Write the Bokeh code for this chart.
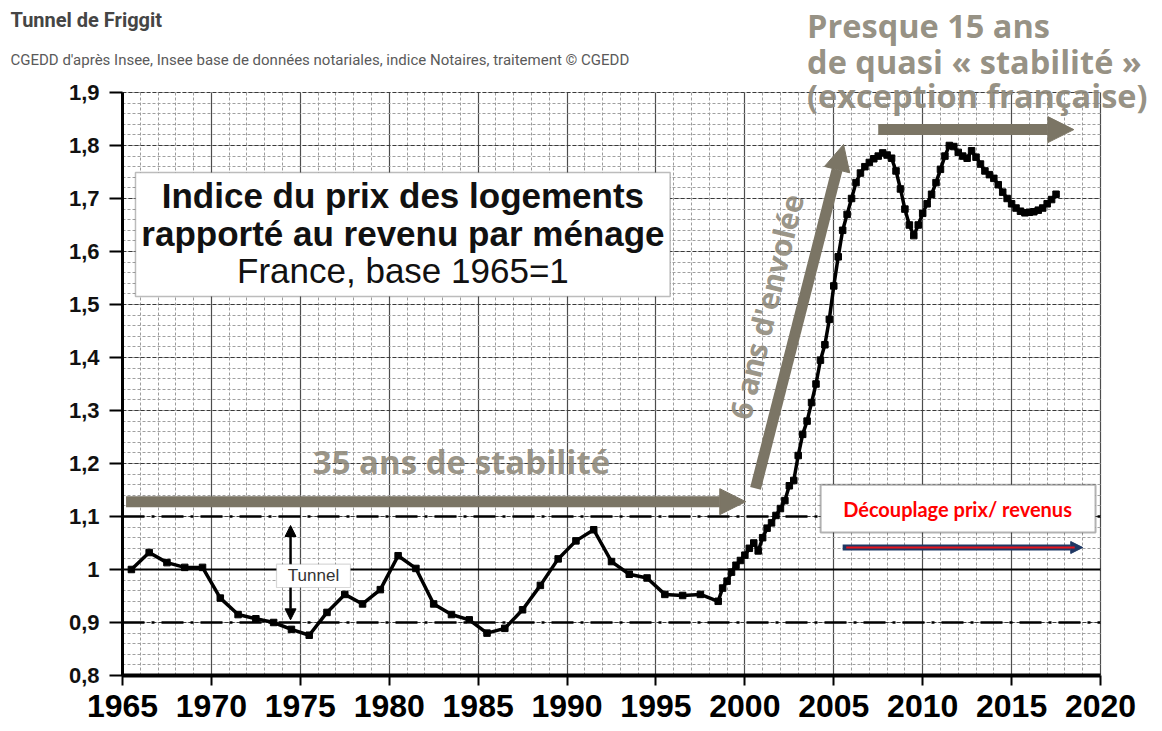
from bokeh.plotting import figure
from bokeh.models import Range1d, FixedTicker, Arrow, NormalHead, Label, BoxAnnotation, ColumnDataSource
from bokeh.embed import file_html
from bokeh.resources import INLINE

# ---------------- data ----------------
annual_years = [1965, 1966, 1967, 1968, 1969, 1970, 1971, 1972, 1973, 1974,
                1975, 1976, 1977, 1978, 1979, 1980, 1981, 1982, 1983, 1984,
                1985, 1986, 1987, 1988, 1989, 1990, 1991, 1992, 1993, 1994,
                1995, 1996, 1997, 1998]
annual_values = [1.000, 1.032, 1.013, 1.004, 1.004, 0.946, 0.915, 0.907, 0.900, 0.887,
                 0.876, 0.919, 0.953, 0.935, 0.962, 1.026, 1.002, 0.935, 0.915, 0.905,
                 0.880, 0.889, 0.924, 0.970, 1.020, 1.054, 1.075, 1.015, 0.991, 0.984,
                 0.953, 0.951, 0.953, 0.940]

quarter_dates = [1998.75, 1999.0, 1999.25, 1999.5, 1999.75, 2000.0, 2000.25, 2000.5, 2000.75,
                 2001.0, 2001.25, 2001.5, 2001.75, 2002.0, 2002.25, 2002.5, 2002.75,
                 2003.0, 2003.25, 2003.5, 2003.75, 2004.0, 2004.25, 2004.5, 2004.75,
                 2005.0, 2005.25, 2005.5, 2005.75, 2006.0, 2006.25, 2006.5, 2006.75,
                 2007.0, 2007.25, 2007.5, 2007.75, 2008.0, 2008.25, 2008.5, 2008.75,
                 2009.0, 2009.25, 2009.5, 2009.75, 2010.0, 2010.25, 2010.5, 2010.75,
                 2011.0, 2011.25, 2011.5, 2011.75, 2012.0, 2012.25, 2012.5, 2012.75,
                 2013.0, 2013.25, 2013.5, 2013.75, 2014.0, 2014.25, 2014.5, 2014.75,
                 2015.0, 2015.25, 2015.5, 2015.75, 2016.0, 2016.25, 2016.5, 2016.75,
                 2017.0, 2017.25, 2017.5]
quarter_values = [0.965, 0.978, 0.995, 1.008, 1.017, 1.027, 1.040, 1.050, 1.035,
                  1.060, 1.078, 1.088, 1.102, 1.115, 1.130, 1.158, 1.168,
                  1.215, 1.255, 1.280, 1.315, 1.350, 1.395, 1.424, 1.472,
                  1.535, 1.590, 1.640, 1.670, 1.700, 1.730, 1.748, 1.760,
                  1.768, 1.775, 1.780, 1.786, 1.782, 1.776, 1.752, 1.718,
                  1.680, 1.650, 1.630, 1.650, 1.672, 1.690, 1.708, 1.730,
                  1.755, 1.780, 1.800, 1.798, 1.787, 1.780, 1.776, 1.790,
                  1.778, 1.765, 1.752, 1.745, 1.738, 1.726, 1.712, 1.700,
                  1.690, 1.682, 1.676, 1.673, 1.674, 1.675, 1.678, 1.682,
                  1.690, 1.698, 1.708]

x_ticks = [1965, 1970, 1975, 1980, 1985, 1990, 1995, 2000, 2005, 2010, 2015, 2020]
y_ticks = [0.8, 0.9, 1.0, 1.1, 1.2, 1.3, 1.4, 1.5, 1.6, 1.7, 1.8, 1.9]
y_tick_labels = ["0,8", "0,9", "1", "1,1", "1,2", "1,3", "1,4", "1,5", "1,6", "1,7", "1,8", "1,9"]
tunnel_levels = [0.9, 1.1]
base_level = 1.0

title_text = "Tunnel de Friggit"
subtitle_text = "CGEDD d'après Insee, Insee base de données notariales, indice Notaires, traitement © CGEDD"
box_lines = ["Indice du prix des logements", "rapporté au revenu par ménage", "France, base 1965=1"]
top_lines = ["Presque 15 ans", "de quasi « stabilité »", "(exception française)"]

# ---------------- figure ----------------
# the frame covers the whole canvas; axes are placed at fixed data locations
p = figure(width=1160, height=731,
           x_range=Range1d(1958.139, 2023.374), y_range=Range1d(0.69434, 2.07358),
           output_backend="svg", toolbar_location=None, min_border=0)
p.outline_line_color = None
p.background_fill_color = "white"
p.border_fill_color = "white"

x0, x1 = x_ticks[0], x_ticks[-1]
y0, y1 = y_ticks[0], y_ticks[-1]

# grids
p.xgrid.ticker = FixedTicker(ticks=x_ticks, minor_ticks=list(range(1965, 2021)))
p.xgrid.bounds = (x0, x1)
p.xgrid.cross_bounds = (y0, y1)
p.xgrid.grid_line_color = "#4d4d4d"
p.xgrid.grid_line_width = 1.2
p.xgrid.minor_grid_line_color = "#9c9c9c"
p.xgrid.minor_grid_line_dash = "3 2"
p.xgrid.minor_grid_line_width = 1

y_minor = [round(0.8 + 0.02 * i, 2) for i in range(56)]
p.ygrid.ticker = FixedTicker(ticks=y_ticks, minor_ticks=y_minor)
p.ygrid.bounds = (y0, y1)
p.ygrid.cross_bounds = (x0, x1)
p.ygrid.grid_line_color = "#3a3a3a"
p.ygrid.grid_line_dash = "4 2"
p.ygrid.grid_line_width = 1.2
p.ygrid.minor_grid_line_color = "#a0a0a0"
p.ygrid.minor_grid_line_dash = "3 2"
p.ygrid.minor_grid_line_width = 1

# axes
p.xaxis.fixed_location = y0
p.xaxis.bounds = (x0, x1)
p.xaxis.ticker = FixedTicker(ticks=x_ticks)
p.xaxis.axis_line_width = 4
p.xaxis.axis_line_color = "black"
p.xaxis.major_tick_line_width = 2
p.xaxis.major_tick_out = 10
p.xaxis.major_tick_in = 0
p.xaxis.minor_tick_line_color = None
p.xaxis.major_label_standoff = 9
p.xaxis.major_label_text_font = "Liberation Sans"
p.xaxis.major_label_text_font_size = "32px"
p.xaxis.major_label_text_font_style = "bold"
p.xaxis.major_label_text_color = "black"

p.yaxis.fixed_location = x0
p.yaxis.bounds = (y0, y1)
p.yaxis.ticker = FixedTicker(ticks=y_ticks)
p.yaxis.axis_line_width = 3
p.yaxis.axis_line_color = "black"
p.yaxis.major_tick_line_width = 2
p.yaxis.major_tick_out = 13
p.yaxis.major_tick_in = 0
p.yaxis.minor_tick_line_color = None
p.yaxis.major_label_standoff = 10
p.yaxis.major_label_text_font = "Liberation Sans"
p.yaxis.major_label_text_font_size = "22px"
p.yaxis.major_label_text_font_style = "bold"
p.yaxis.major_label_text_color = "#111111"
p.yaxis.major_label_overrides = {t: s for t, s in zip(y_ticks, y_tick_labels)}

# reference lines (tunnel)
p.segment(x0=[x0], y0=[base_level], x1=[x1], y1=[base_level], line_color="black", line_width=2.2)
p.segment(x0=[x0] * 2, y0=tunnel_levels, x1=[x1] * 2, y1=tunnel_levels,
          line_color="black", line_width=2.5, line_dash="22 7 3 7")

# series
xs = [y + 0.5 for y in annual_years] + quarter_dates
ys = annual_values + quarter_values
src = ColumnDataSource(dict(x=xs, y=ys))
p.line("x", "y", source=src, line_color="black", line_width=3.5)
p.scatter("x", "y", source=src, marker="square", size=6.5, fill_color="black", line_color="black")

tan = "#7b7565"
tan_text = "#8d8779"

# arrows
p.add_layout(Arrow(x_start=1965.2, y_start=1.128, x_end=2000.05, y_end=1.128,
                   line_color=tan, line_width=11,
                   end=NormalHead(size=26, fill_color=tan, line_color=tan)))
p.add_layout(Arrow(x_start=2000.6, y_start=1.153, x_end=2005.55, y_end=1.802,
                   line_color=tan, line_width=11,
                   end=NormalHead(size=26, fill_color=tan, line_color=tan)))
p.add_layout(Arrow(x_start=2007.5, y_start=1.830, x_end=2018.5, y_end=1.830,
                   line_color=tan, line_width=11,
                   end=NormalHead(size=26, fill_color=tan, line_color=tan)))

# tunnel double arrow + box
p.add_layout(Arrow(x_start=1974.45, y_start=0.905, x_end=1974.45, y_end=1.083,
                   line_color="black", line_width=2.5,
                   start=NormalHead(size=11, fill_color="black", line_color="black"),
                   end=NormalHead(size=11, fill_color="black", line_color="black")))
p.add_layout(BoxAnnotation(left=1973.66, right=1977.82, bottom=0.966, top=1.010,
                           fill_color="white", fill_alpha=1, line_color="#7f7f7f", line_width=1.2))
p.add_layout(Label(x=1975.74, y=0.988, text="Tunnel", text_font="Liberation Sans",
                   text_font_size="17px", text_color="#333333", text_align="center",
                   text_baseline="middle"))

# main box
p.add_layout(BoxAnnotation(left=1965.73, right=1995.8, bottom=1.515, top=1.749,
                           fill_color="white", fill_alpha=1, line_color="#222222", line_width=1.5))
for txt, yy, st in zip(box_lines, [1.7057, 1.6340, 1.5642], ["bold", "bold", "normal"]):
    p.add_layout(Label(x=1980.77, y=yy, text=txt, text_font="Liberation Sans",
                       text_font_size="35px", text_font_style=st, text_color="#111111",
                       text_align="center", text_baseline="middle"))

# découplage box + arrow
p.add_layout(BoxAnnotation(left=2004.26, right=2019.72, bottom=1.070, top=1.160,
                           fill_color="white", fill_alpha=1, line_color="black", line_width=2))
p.add_layout(Label(x=2011.96, y=1.114, text="Découplage prix/ revenus", text_font="Lato",
                   text_font_size="20px", text_font_style="bold", text_color="#ff0000",
                   text_align="center", text_baseline="middle"))
navy = "#1f3864"
p.add_layout(Arrow(x_start=2005.5, y_start=1.0415, x_end=2019.0, y_end=1.0415,
                   line_color=navy, line_width=6,
                   end=NormalHead(size=12, fill_color=navy, line_color=navy)))
p.add_layout(Arrow(x_start=2005.7, y_start=1.0415, x_end=2018.55, y_end=1.0415,
                   line_color="#e8141c", line_width=2, end=None))

# tan texts
p.add_layout(Label(x=1975.7, y=1.2047, text="35 ans de stabilité", text_font="Open Sans",
                   text_font_size="33px", text_font_style="bold", text_color=tan_text,
                   text_alpha=0.9, text_align="left", text_baseline="middle"))
p.add_layout(Label(x=2001.2, y=1.496, text="6 ans d'envolée", text_font="Open Sans",
                   text_font_size="30px", text_font_style="bold", text_color=tan_text,
                   text_alpha=0.9, text_align="center", text_baseline="middle", angle=1.335))
for txt, yy in zip(top_lines, [2.0264, 1.9585, 1.8943]):
    p.add_layout(Label(x=2003.5, y=yy, text=txt, text_font="Open Sans",
                       text_font_size="32.5px", text_font_style="bold", text_color=tan_text,
                       text_alpha=0.92, text_align="left", text_baseline="middle"))

# title and source
p.add_layout(Label(x=1958.7, y=2.0377, text=title_text, text_font="Roboto",
                   text_font_size="20px", text_font_style="bold", text_color="#454545",
                   text_align="left", text_baseline="middle"))
p.add_layout(Label(x=1958.7, y=1.9604, text=subtitle_text, text_font="Roboto",
                   text_font_size="15px", text_color="#5a5a5a",
                   text_align="left", text_baseline="middle"))

open("out.html", "w").write(file_html(p, INLINE))
